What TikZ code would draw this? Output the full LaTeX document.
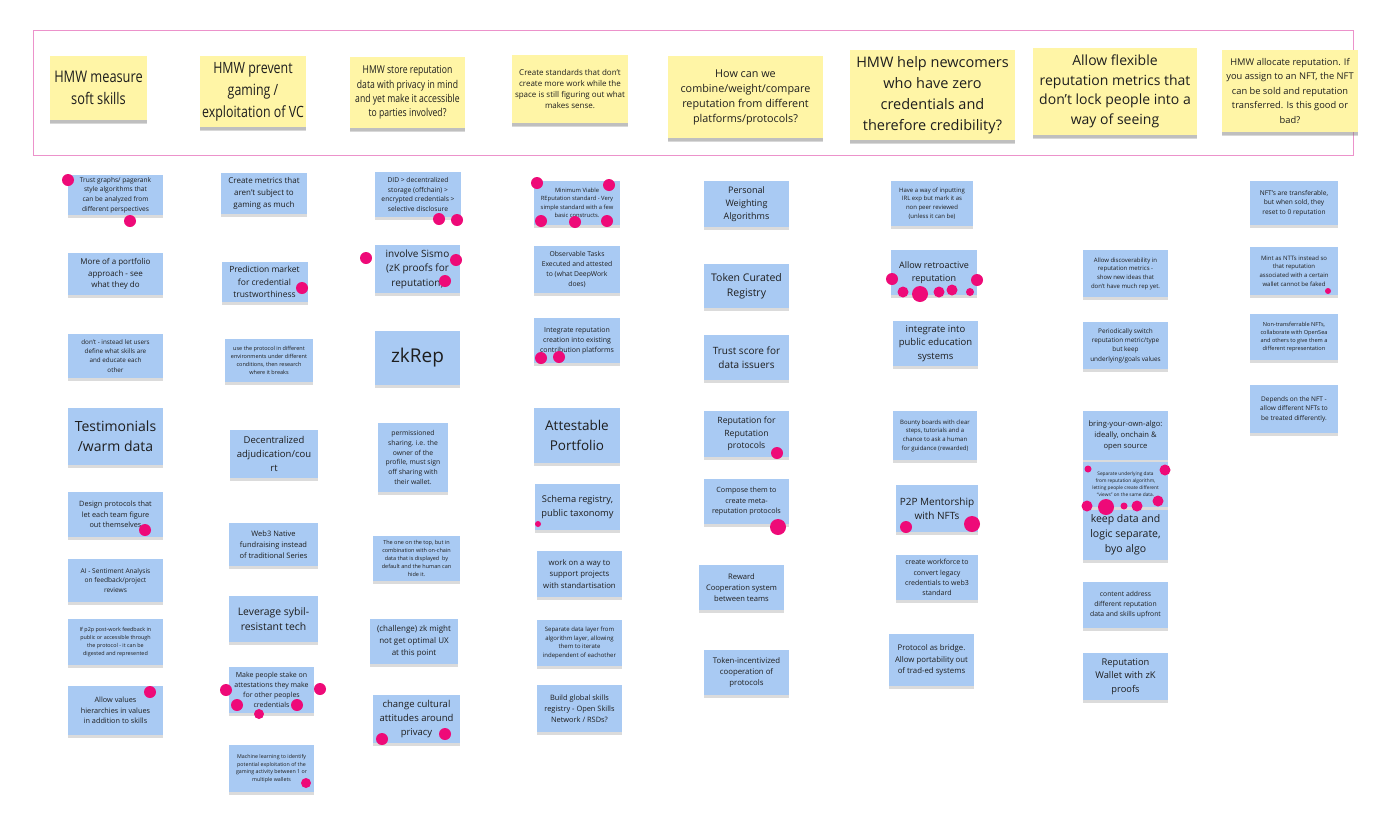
\documentclass[tikz,border=0pt]{standalone}
\usepackage{fontspec}
\setmainfont{Open Sans}
\newfontfamily\narrowfont[FakeStretch=0.8]{Open Sans}
\usetikzlibrary{shadows}
\definecolor{bdInk}{HTML}{1E1E1E}
\definecolor{bdYellow}{HTML}{FFF5A6}
\definecolor{bdBlue}{HTML}{A9CAF3}
\definecolor{bdVote}{HTML}{EE0A78}
\definecolor{bdFrame}{HTML}{EC92CB}
\newcommand{\nf}[1]{\fontsize{#1}{\fpeval{1.45*#1}}\selectfont}
\newcommand{\hf}[2]{\fontsize{#1}{#2}\selectfont}
\tikzset{
  note/.style={
    fill=bdBlue, text=bdInk, align=center, inner sep=2pt,
    minimum width=86, minimum height=45,
    drop shadow={shadow xshift=0pt, shadow yshift=-2.5pt, opacity=0.28}
  },
  head/.style={note, fill=bdYellow,
    drop shadow={shadow xshift=0pt, shadow yshift=-4pt, opacity=0.3}},
  vote/.style={fill=bdVote},
  frame/.style={draw=bdFrame, line width=1pt},
}
\begin{document}
\begin{tikzpicture}[x=1pt, y=-1pt]
  \fill[white] (0,0) rectangle (1400,817);
  \useasboundingbox (0,0) rectangle (1400,817);
  \draw[frame] (33,30) rectangle (1353,155);

  % questions
  \node[head, minimum width=97, minimum height=64, font=\narrowfont\hf{16}{22}] (hsoft) at (98.5,88) {HMW measure\\soft skills};
  \node[head, minimum width=106, minimum height=71, font=\narrowfont\hf{15.5}{22}] (hgaming) at (253,91.5) {HMW prevent\\gaming /\\exploitation of VC};
  \node[head, minimum width=115, minimum height=71, font=\narrowfont\hf{10.8}{14.3}] (hprivacy) at (407.5,92.5) {HMW store reputation\\data with privacy in mind\\and yet make it accessible\\to parties involved?};
  \node[head, minimum width=116, minimum height=68, font=\hf{8}{11.3}] (hstandards) at (570,89) {Create standards that don't\\create more work while the\\space is still figuring out what\\makes sense.};
  \node[head, minimum width=155, minimum height=82, font=\hf{10.8}{15}] (hcombine) at (745.5,97) {How can we\\combine/weight/compare\\reputation from different\\platforms/protocols?};
  \node[head, minimum width=165, minimum height=90, font=\hf{14.5}{21}] (hnewcomers) at (932.5,95) {HMW help newcomers\\who have zero\\credentials and\\therefore credibility?};
  \node[head, minimum width=164, minimum height=87, font=\hf{14}{19.5}] (hflexible) at (1115,91.5) {Allow flexible\\reputation metrics that\\don't lock people into a\\way of seeing};
  \node[head, minimum width=136, minimum height=82, font=\hf{9.3}{14.5}] (hallocate) at (1290,91) {HMW allocate reputation. If\\you assign to an NFT, the NFT\\can be sold and reputation\\transferred. Is this good or\\bad?};

  % soft skills
  \node[note, minimum width=95, minimum height=40, font=\nf{6.6}] (trust) at (115.5,195) {Trust graphs/ pagerank\\style algorithms that\\can be analyzed from\\different perspectives};
  \node[note, minimum width=95, minimum height=42, font=\nf{8}] (portfolio) at (115.5,274) {More of a portfolio\\approach - see\\what they do};
  \node[note, minimum width=95, minimum height=44, font=\nf{6.3}] (dont) at (115.5,356) {don't - instead let users\\define what skills are\\and educate each\\other};
  \node[note, minimum width=95, minimum height=57, font=\nf{14}] (testimonials) at (115.5,436.5) {Testimonials\\/warm data};
  \node[note, minimum width=95, minimum height=45, font=\nf{7.3}] (design) at (115.5,514.5) {Design protocols that\\let each team figure\\out themselves};
  \node[note, minimum width=95, minimum height=43, font=\nf{6.6}] (sentiment) at (115.5,580.5) {AI - Sentiment Analysis\\on feedback/project\\reviews};
  \node[note, minimum width=95, minimum height=46, font=\nf{5.4}] (feedback) at (115.5,642) {If p2p post-work feedback in\\public or accessible through\\the protocol - it can be\\digested and represented};
  \node[note, minimum width=95, minimum height=49, font=\nf{7.3}] (values) at (115.5,710.5) {Allow values\\hierarchies in values\\in addition to skills};

  % gaming
  \node[note, minimum height=41, font=\nf{8}] (metrics) at (264,193.5) {Create metrics that\\aren't subject to\\gaming as much};
  \node[note, minimum height=40, font=\nf{8.5}] (prediction) at (264.5,282) {Prediction market\\for credential\\trustworthiness};
  \node[note, minimum width=88, minimum height=43, font=\nf{5.5}] (environments) at (269,360.5) {use the protocol in different\\environments under different\\conditions, then research\\where it breaks};
  \node[note, minimum width=88, minimum height=48, font=\nf{9.5}] (adjudication) at (274,454) {Decentralized\\adjudication/cou\\rt};
  \node[note, minimum width=89, minimum height=43, font=\nf{7.5}] (fundraising) at (273.5,544.5) {Web3 Native\\fundraising instead\\of traditional Series};
  \node[note, minimum width=89, minimum height=46, font=\nf{10.4}] (sybil) at (273.5,619) {Leverage sybil-\\resistant tech};
  \node[note, minimum width=85, minimum height=46, font=\nf{7}] (stake) at (271.5,690) {Make people stake on\\attestations they make\\for other peoples\\credentials};
  \node[note, minimum width=85, minimum height=47, font=\nf{5.3}] (learning) at (271.5,768.5) {Machine learning to identify\\potential exploitation of the\\gaming activity between 1 or\\multiple wallets};

  % privacy
  \node[note, minimum height=45, font=\nf{6.7}] (did) at (418,194.5) {DID > decentralized\\storage (offchain) >\\encrypted credentials >\\selective disclosure};
  \node[note, minimum width=85, minimum height=48, font=\nf{10}] (sismo) at (417.5,269) {involve Sismo\\(zK proofs for\\reputation)};
  \node[note, minimum width=85, minimum height=54, font=\nf{19}] (zkrep) at (417.5,358) {zkRep};
  \node[note, minimum width=70, minimum height=69, font=\nf{6.8}] (permissioned) at (413,457.5) {permissioned\\sharing. i.e. the\\owner of the\\profile, must sign\\off sharing with\\their wallet.};
  \node[note, minimum width=87, minimum height=45, font=\nf{5.5}] (ontop) at (416.5,558.5) {The one on the top, but in\\combination with on-chain\\data that is displayed\ \ by\\default and the human can\\hide it.};
  \node[note, minimum width=88, minimum height=45, font=\nf{8}] (challenge) at (414,641.5) {(challenge) zk might\\not get optimal UX\\at this point};
  \node[note, minimum width=87, minimum height=48, font=\nf{9.5}] (cultural) at (416.5,719) {change cultural\\attitudes around\\privacy};

  % standards
  \node[note, minimum height=44, font=\nf{5.8}] (viable) at (577,203) {Minimum Viable\\REputation standard - Very\\simple standard with a few\\basic constructs.};
  \node[note, minimum height=47, font=\nf{6.8}] (observable) at (577,269.5) {Observable Tasks\\Executed and attested\\to (what DeepWork\\does)};
  \node[note, minimum height=45, font=\nf{7}] (integrate) at (577,340.5) {Integrate reputation\\creation into existing\\contribution platforms};
  \node[note, minimum height=55, font=\nf{13.5}] (attestable) at (577,435.5) {Attestable\\Portfolio};
  \node[note, minimum width=85, minimum height=46, font=\nf{9.3}] (schema) at (577.5,507) {Schema registry,\\public taxonomy};
  \node[note, minimum width=85, minimum height=46, font=\nf{7.8}] (workon) at (579.5,574) {work on a way to\\support projects\\with standartisation};
  \node[note, minimum width=85, minimum height=46, font=\nf{6}] (datalayer) at (579.5,643) {Separate data layer from\\algorithm layer, allowing\\them to iterate\\independent of eachother};
  \node[note, minimum width=85, minimum height=47, font=\nf{7.4}] (skillsreg) at (579.5,708.5) {Build global skills\\registry - Open Skills\\Network / RSDs?};

  % combine
  \node[note, minimum width=85, minimum height=46, font=\nf{9}] (weighting) at (746.5,204) {Personal\\Weighting\\Algorithms};
  \node[note, minimum width=85, minimum height=44, font=\nf{10.5}] (curated) at (746.5,286) {Token Curated\\Registry};
  \node[note, minimum width=85, minimum height=45, font=\nf{10}] (trustscore) at (746.5,357.5) {Trust score for\\data issuers};
  \node[note, minimum width=85, minimum height=46, font=\nf{8.6}] (repforrep) at (746.5,434) {Reputation for\\Reputation\\protocols};
  \node[note, minimum width=85, minimum height=45, font=\nf{7.2}] (compose) at (746.5,501.5) {Compose them to\\create meta-\\reputation protocols};
  \node[note, minimum width=85, minimum height=45, font=\nf{7.6}] (reward) at (741.5,587.5) {Reward\\Cooperation system\\between teams};
  \node[note, minimum width=85, minimum height=45, font=\nf{7.8}] (tokencoop) at (746.5,672.5) {Token-incentivized\\cooperation of\\protocols};

  % newcomers
  \node[note, minimum width=82, minimum height=45, font=\nf{6}] (irl) at (932,203.5) {Have a way of inputting\\IRL exp but mark it as\\non peer reviewed\\(unless it can be)};
  \node[note, minimum height=45, font=\nf{9}] (retro) at (934,272.5) {Allow retroactive\\reputation};
  \node[note, minimum width=85, minimum height=45, font=\nf{9.5}] (education) at (935.5,343.5) {integrate into\\public education\\systems};
  \node[note, minimum width=84, minimum height=49, font=\nf{6}] (bounty) at (935,435.5) {Bounty boards with clear\\steps, tutorials and a\\chance to ask a human\\for guidance (rewarded)};
  \node[note, minimum width=82, minimum height=47, font=\nf{10}] (mentorship) at (937,508.5) {P2P Mentorship\\with NFTs};
  \node[note, minimum width=82, minimum height=45, font=\nf{7}] (workforce) at (937,577.5) {create workforce to\\convert legacy\\credentials to web3\\standard};
  \node[note, minimum width=85, minimum height=52, font=\nf{7.8}] (bridge) at (931.5,660) {Protocol as bridge.\\Allow portability out\\of trad-ed systems};

  % flexible metrics
  \node[note, minimum width=85, minimum height=47, font=\nf{6}] (discover) at (1125.5,273.5) {Allow discoverability in\\reputation metrics -\\show new ideas that\\don't have much rep yet.};
  \node[note, minimum width=85, minimum height=47, font=\nf{6.4}] (periodic) at (1125.5,345.5) {Periodically switch\\reputation metric/type\\but keep\\underlying/goals values};
  \node[note, minimum width=85, minimum height=49, font=\nf{7.6}] (byoalgo) at (1125.5,435.5) {bring-your-own-algo:\\ideally, onchain \&\\open source};
  \node[note, minimum width=85, minimum height=45, font=\nf{4.8}] (separate) at (1125.5,484.5) {Separate underlying data\\from reputation algorithm,\\letting people create different\\``views'' on the same data.};
  \node[note, minimum width=85, minimum height=50, font=\nf{10.5}] (keepdata) at (1125.5,535) {keep data and\\logic separate,\\byo algo};
  \node[note, minimum width=85, minimum height=46, font=\nf{6.8}] (address) at (1125.5,605) {content address\\different reputation\\data and skills upfront};
  \node[note, minimum width=85, minimum height=47, font=\nf{9.3}] (wallet) at (1125.5,676.5) {Reputation\\Wallet with zK\\proofs};

  % allocate
  \node[note, minimum width=88, minimum height=44, font=\nf{6.6}] (transferable) at (1294,203) {NFT's are transferable,\\but when sold, they\\reset to 0 reputation};
  \node[note, minimum width=88, minimum height=48, font=\nf{6}] (mint) at (1294,271) {Mint as NTTs instead so\\that reputation\\associated with a certain\\wallet cannot be faked};
  \node[note, minimum width=88, minimum height=46, font=\nf{5.6}] (nontransfer) at (1294,337) {Non-transferrable NFTs,\\collaborate with OpenSea\\and others to give them a\\different representation};
  \node[note, minimum width=88, minimum height=48, font=\nf{6.5}] (depends) at (1294,409) {Depends on the NFT -\\allow different NFTs to\\be treated differently.};

  % votes
  \foreach \vx/\vy/\vr in {68/180/6, 130/221/6, 145/530/6, 150/692/6,
      302/288/6, 226/690/6, 237/705/6, 259/714/5, 297/705/6, 320/689/6, 306/783/5,
      439/219/6, 457/220/6, 366/258/6, 456/260/6, 445/281/6, 382/739/6, 445/734/6,
      537/183/6, 609/185/6, 541/221/6, 575/222/6, 607/221/6, 541/358/6, 559/357/6, 538/524/3,
      777/453/6, 778/527/8,
      892/279/6, 903/292/5.5, 920/294/8, 939/292/5.5, 952/290/5.5, 970/292/4, 977/280/6,
      906/527/6, 972/524/8,
      1088/469/3.5, 1165/470/5.5, 1087/506/5.5, 1106/507/8, 1124/506/3.5, 1137/506/5.5, 1158/501/5.5,
      1328/291/3}
    \fill[vote] (\vx,\vy) circle (\vr pt);
\end{tikzpicture}
\end{document}
